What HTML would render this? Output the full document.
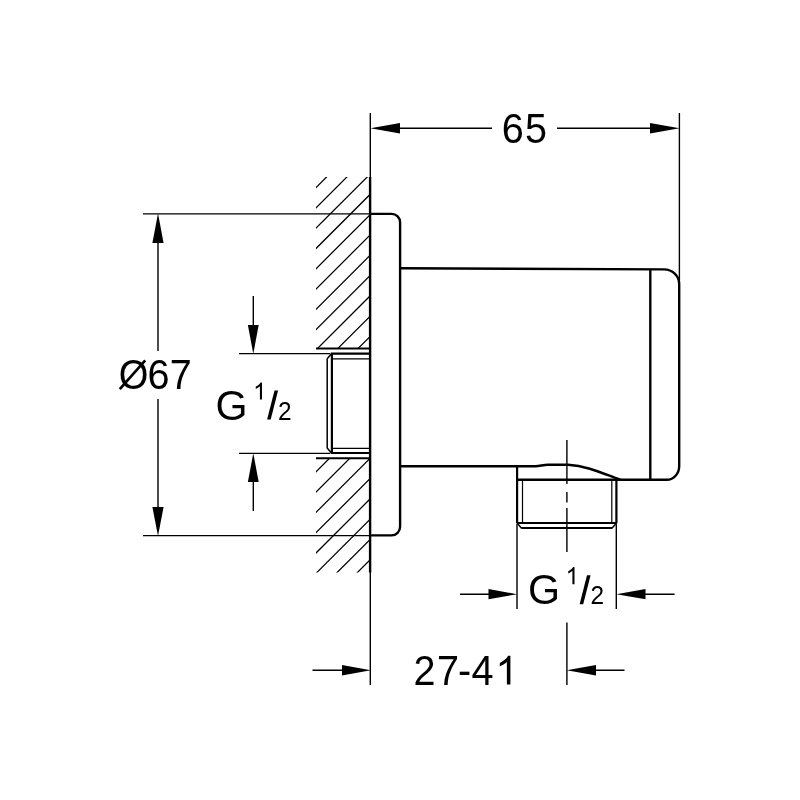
<!DOCTYPE html>
<html><head><meta charset="utf-8">
<style>
html,body{margin:0;padding:0;background:#fff;}
body{width:800px;height:800px;overflow:hidden;}
svg{display:block;}
text{font-family:"Liberation Sans",sans-serif;fill:#000;}
</style></head><body>
<svg width="800" height="800" viewBox="0 0 800 800">
<defs>
<clipPath id="h1"><rect x="316" y="177" width="54" height="171.5"/></clipPath>
<clipPath id="h2"><rect x="316" y="458" width="54" height="114.5"/></clipPath>
</defs>
<rect width="800" height="800" fill="#fff"/>
<!-- wall hatch -->
<g clip-path="url(#h1)" stroke="#000" stroke-width="1.25" fill="none"><path d="M299.5 204.1 L379.5 124.1 M299.5 224.4 L379.5 144.4 M299.5 244.7 L379.5 164.7 M299.5 265.0 L379.5 185.0 M299.5 285.3 L379.5 205.3 M299.5 305.6 L379.5 225.6 M299.5 325.9 L379.5 245.9 M299.5 346.2 L379.5 266.2 M299.5 366.5 L379.5 286.5 M299.5 386.8 L379.5 306.8 M299.5 407.1 L379.5 327.1 M299.5 427.4 L379.5 347.4"/></g>
<g clip-path="url(#h2)" stroke="#000" stroke-width="1.25" fill="none"><path d="M299.5 488.3 L379.5 408.3 M299.5 508.6 L379.5 428.6 M299.5 528.9 L379.5 448.9 M299.5 549.2 L379.5 469.2 M299.5 569.5 L379.5 489.5 M299.5 589.8 L379.5 509.8 M299.5 610.1 L379.5 530.1 M299.5 630.4 L379.5 550.4 M299.5 650.7 L379.5 570.7 M299.5 671.0 L379.5 591.0 M299.5 691.3 L379.5 611.3"/></g>
<!-- thin dimension / extension lines -->
<g stroke="#000" stroke-width="1.4" fill="none">
<path d="M370.3 113V178M370.3 572V685"/>
<path d="M679.4 113V280"/>
<path d="M399 128.3H492M557 128.3H651"/>
<path d="M143 213.9H371M143 535.6H371"/>
<path d="M158 242V351M158 399V508"/>
<path d="M239 353.6H330M239 453.4H330"/>
<path d="M253.300 296V326M253.300 482V511"/>
<path d="M517 524V609M616.3 524V609"/>
<path d="M460 594.200H489M645 594.200H674.600"/>
<path d="M312.500 670.300H343M596 670.300H624.500"/>
<path d="M566.9 440V484M566.9 492V502.400M566.9 508V552M566.9 622.500V685"/>
</g>
<!-- arrow heads -->
<g fill="#000" stroke="none">
<path d="M370.500 128.300L400 123.100V133.500Z"/>
<path d="M679.500 128.300L650 123.100V133.500Z"/>
<path d="M158 213.600L152.400 243H163.600Z"/>
<path d="M158 535.900L152.400 507H163.600Z"/>
<path d="M253.300 353.800L247.900 325H258.700Z"/>
<path d="M253.300 453.200L247.900 482H258.700Z"/>
<path d="M517.300 594.200L488.500 589.100V599.300Z"/>
<path d="M616.300 594.200L645.500 589.100V599.300Z"/>
<path d="M370.800 670.300L342 665.100V675.500Z"/>
<path d="M566.700 670.300L596 665.100V675.500Z"/>
</g>
<!-- heavy outline -->
<g stroke="#000" stroke-width="2.4" fill="none" stroke-linejoin="round">
<path d="M370.1 177V572.500"/>
<path d="M400.1 268.300L664 269.400C672.400 269.400 679.200 276 679.200 284V466C679.200 473.600 673.700 479.800 667 479.800H517.100"/>
<path d="M370.100 213.900H391.600C396.300 213.900 400.100 217.700 400.100 222.400V526.800C400.100 531.500 396.300 535.400 391.600 535.400H370.100"/>
<path d="M650.300 269.400V479.800"/>
<path d="M400.100 466.200H535.500C540 466.200 543 464.800 548 464.800H568C588 466 604 474 620.500 479.800"/>
</g>
<g stroke="#000" stroke-width="2" fill="none"><path d="M316 348.500H370M316 458.300H370"/></g>
<!-- threaded stubs -->
<g stroke="#000" stroke-width="2.200" fill="none" stroke-linejoin="miter">
<path d="M370 353.700H331.900V453H370"/>
<path d="M517.100 466.200V523.300M616.400 479.800V523.300M517.100 523H616.400M521.300 528H612.200"/>
</g>
<g stroke="#000" stroke-width="1.500" fill="none">
<path d="M331.600 353.500L327.200 358.800V448L331.600 453.200"/>
<path d="M517.100 523L521.500 528.200M616.400 523L612 528.200"/>
</g>
<g stroke="#000" stroke-width="1.200" fill="none">
<path d="M370 358.800H332M370 448.400H332"/>
<path d="M522.500 480V523M611.800 480V523"/>
</g>
<!-- labels -->
<g opacity="0.999">
<text transform="translate(501.69,142.50) scale(0.965,1.035)" font-size="41.00">6</text><text transform="translate(525.12,142.50) scale(0.965,1.035)" font-size="41.00">5</text>
<text transform="translate(118.66,388.60) scale(0.930,1.035)" font-size="41.00">O</text><path d="M119.800 389.200L145.200 360.300" stroke="#000" stroke-width="2.700" fill="none"/><text transform="translate(147.39,388.60) scale(0.965,1.035)" font-size="41.00">6</text><text transform="translate(169.87,388.60) scale(0.965,1.035)" font-size="41.00">7</text>
<text transform="translate(413.41,684.60) scale(0.965,1.035)" font-size="41.00">2</text><text transform="translate(436.97,684.60) scale(0.965,1.035)" font-size="41.00">7</text><text transform="translate(458.04,684.60) scale(0.965,1.035)" font-size="41.00">-</text><text transform="translate(471.49,684.60) scale(0.965,1.035)" font-size="41.00">4</text>
<path transform="translate(495.43,684.60) scale(0.01962,-0.01962)" d="M763 0H583V1147Q518 1085 412.5 1023Q307 961 223 930V1104Q374 1175 487 1276Q600 1377 647 1472H763Z" fill="#000"/>
<text transform="translate(215.43,419.60) scale(1.005,1.035)" font-size="41.00">G</text>
<path transform="translate(253.13,399.60) scale(0.01162,-0.01162)" d="M763 0H583V1147Q518 1085 412.5 1023Q307 961 223 930V1104Q374 1175 487 1276Q600 1377 647 1472H763Z" fill="#000"/>
<path d="M267.1 419.6 L270.7 419.6 L278.1 390.6 L274.5 390.6 Z" fill="#000"/>
<text transform="translate(278.07,419.60) scale(0.970,1.035)" font-size="25.20">2</text>
<text transform="translate(527.93,604.20) scale(1.005,1.035)" font-size="41.00">G</text>
<path transform="translate(565.63,584.20) scale(0.01162,-0.01162)" d="M763 0H583V1147Q518 1085 412.5 1023Q307 961 223 930V1104Q374 1175 487 1276Q600 1377 647 1472H763Z" fill="#000"/>
<path d="M579.6 604.2 L583.2 604.2 L590.6 575.2 L587.0 575.2 Z" fill="#000"/>
<text transform="translate(590.57,604.20) scale(0.970,1.035)" font-size="25.20">2</text>
</g>
</svg>
</body></html>
